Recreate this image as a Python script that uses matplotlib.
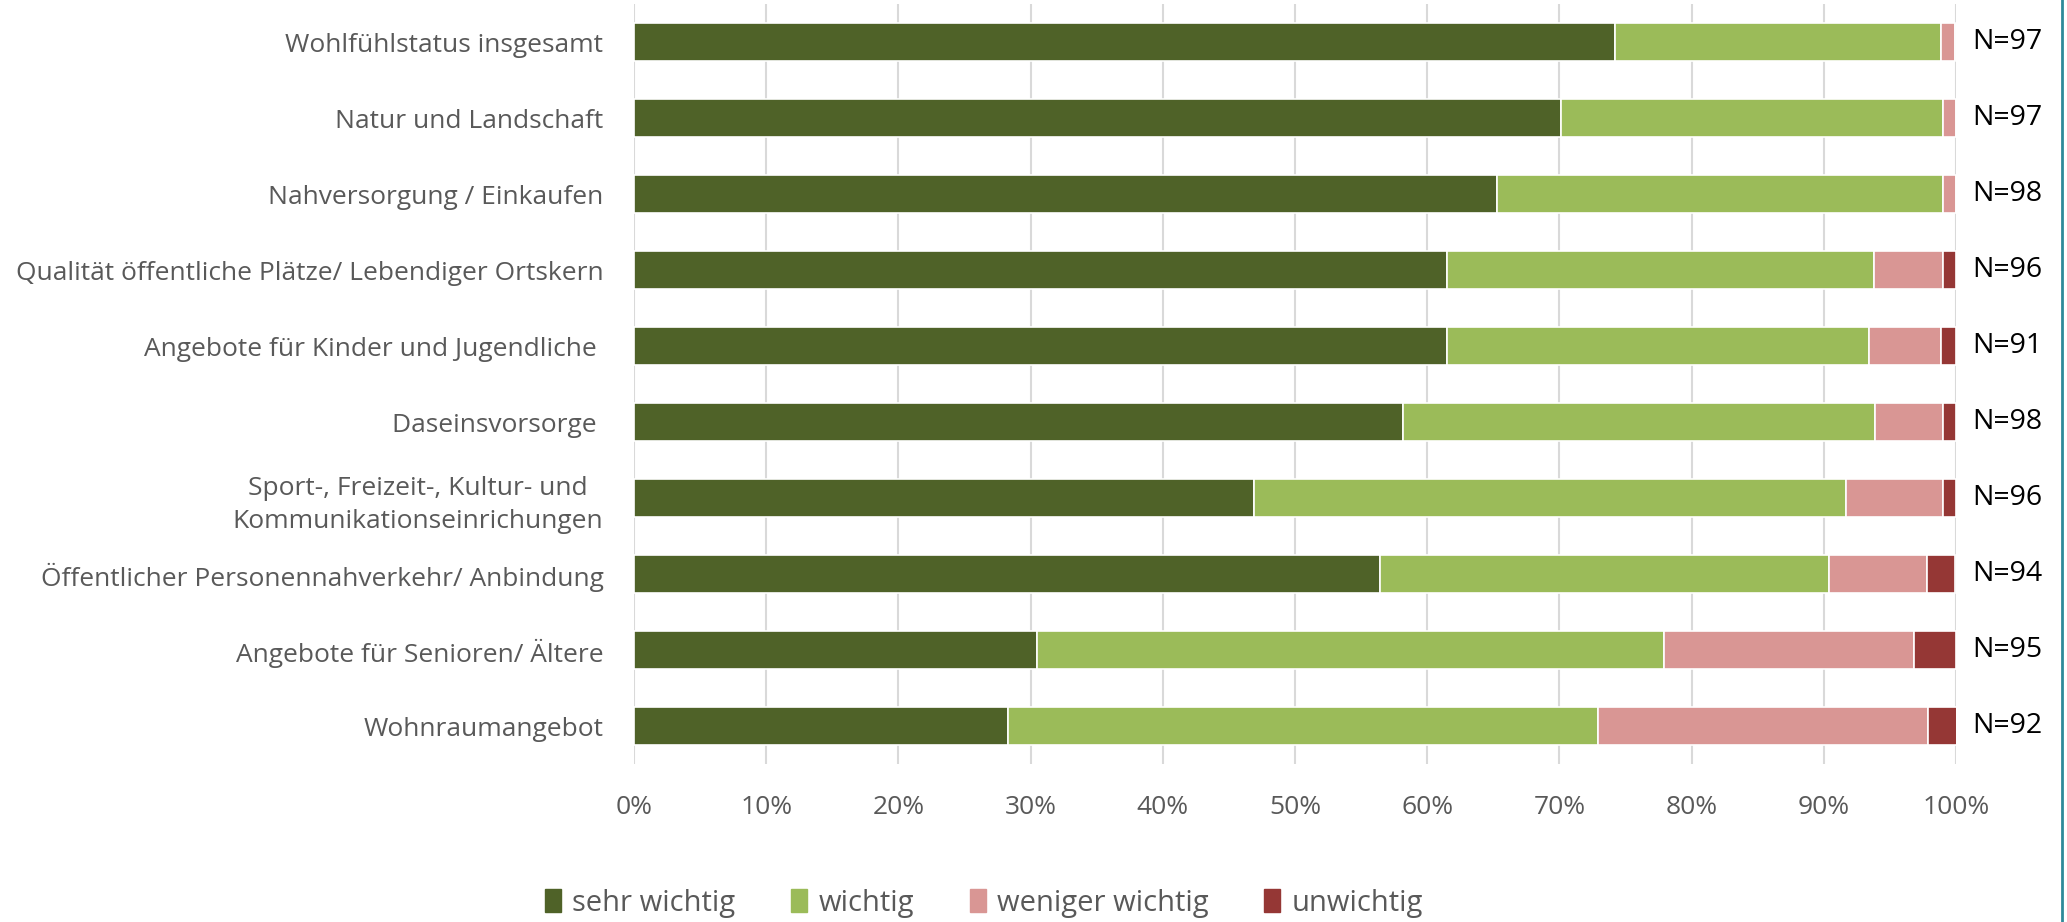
import matplotlib
matplotlib.use("Agg")
import matplotlib.pyplot as plt
from matplotlib.lines import Line2D
import numpy as np

plt.rcParams['font.family'] = ['Open Sans', 'DejaVu Sans']

categories = [
    "Wohlfühlstatus insgesamt",
    "Natur und Landschaft",
    "Nahversorgung / Einkaufen",
    "Qualität öffentliche Plätze/ Lebendiger Ortskern",
    "Angebote für Kinder und Jugendliche ",
    "Daseinsvorsorge ",
    "Sport-, Freizeit-, Kultur- und\nKommunikationseinrichungen",
    "Öffentlicher Personennahverkehr/ Anbindung",
    "Angebote für Senioren/ Ältere",
    "Wohnraumangebot",
]
sehr_wichtig = [74.2, 70.1, 65.3, 61.5, 61.5, 58.2, 46.9, 56.4, 30.5, 28.3]
wichtig = [24.7, 28.9, 33.7, 32.3, 31.9, 35.7, 44.8, 34.0, 47.4, 44.6]
weniger_wichtig = [1.0, 1.0, 1.0, 5.2, 5.5, 5.1, 7.3, 7.4, 18.9, 25.0]
unwichtig = [0.0, 0.0, 0.0, 1.0, 1.1, 1.0, 1.0, 2.1, 3.2, 2.2]
n_labels = ["N=97", "N=97", "N=98", "N=96", "N=91", "N=98", "N=96", "N=94", "N=95", "N=92"]
series_names = ["sehr wichtig", "wichtig", "weniger wichtig", "unwichtig"]
colors = ["#4F6228", "#9BBB59", "#D99694", "#953735"]
x_ticks = [0, 10, 20, 30, 40, 50, 60, 70, 80, 90, 100]
x_tick_labels = ["0%", "10%", "20%", "30%", "40%", "50%", "60%", "70%", "80%", "90%", "100%"]

W, H = 2067, 922
fig = plt.figure(figsize=(W / 100, H / 100), dpi=100)
ax = fig.add_axes([634 / W, 1 - 764 / H, (1956 - 634) / W, (764 - 4) / H])

y = np.arange(len(categories))
series = [sehr_wichtig, wichtig, weniger_wichtig, unwichtig]
left = np.zeros(len(categories))
for vals, name, col in zip(series, series_names, colors):
    vals = np.array(vals)
    ax.barh(y, vals, left=left, height=0.49, color=col, edgecolor="white",
            linewidth=1.2, label=name, zorder=3)
    left += vals

ax.set_xlim(0, 100)
ax.set_ylim(len(categories) - 0.5, -0.5)
ax.set_yticks(y)
ax.set_yticklabels(categories, fontsize=19, color="#595959", ha="right",
                   multialignment="center", linespacing=1.42)
ax.set_xticks(x_ticks)
ax.set_xticklabels(x_tick_labels, fontsize=19, color="#595959")
ax.tick_params(axis="y", length=0, pad=22)
ax.tick_params(axis="x", length=0, pad=22)
ax.grid(axis="x", color="#D9D9D9", linewidth=1.5, zorder=0)
ax.grid(axis="y", visible=False)
for s in ax.spines.values():
    s.set_visible(False)

for yi, lab in zip(y, n_labels):
    ax.annotate(lab, xy=(100, yi), xycoords="data", xytext=(12, 0),
                textcoords="offset points", ha="left", va="center",
                fontsize=20.5, color="#000000")

handles = [plt.Rectangle((0, 0), 1, 1, color=c) for c in colors]
fig.legend(handles, series_names, loc="center", bbox_to_anchor=(984 / W, 1 - 903 / H),
           ncol=4, frameon=False, fontsize=21, handlelength=0.55, handleheight=0.85,
           handletextpad=0.4, columnspacing=1.9, labelcolor="#595959")

fig.add_artist(Line2D([2062 / W, 2062 / W], [0, 1], transform=fig.transFigure,
                      color="#2F8A99", linewidth=2))

fig.savefig("out.png", dpi=100, facecolor="white")
